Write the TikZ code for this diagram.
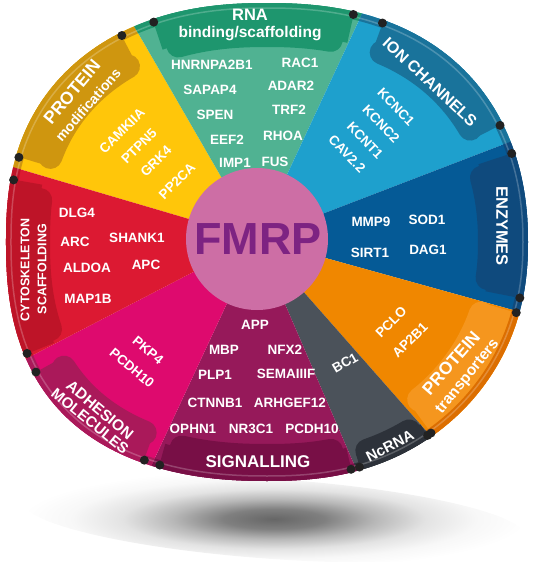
\documentclass[tikz,border=0pt]{standalone}
\usepackage{fontspec}
\setmainfont{Liberation Sans}
\definecolor{ylw}{HTML}{FFC60A}\definecolor{ylwD}{HTML}{CF960F}
\definecolor{grn}{HTML}{50B292}\definecolor{grnD}{HTML}{1E966E}
\definecolor{blu}{HTML}{1EA0CD}\definecolor{bluD}{HTML}{19739B}
\definecolor{dbl}{HTML}{055A96}\definecolor{dblD}{HTML}{0F4A7D}
\definecolor{org}{HTML}{F08700}\definecolor{orgD}{HTML}{DC6E00}\definecolor{orgT}{HTML}{F5961E}
\definecolor{gry}{HTML}{4B525A}\definecolor{gryD}{HTML}{2D323A}
\definecolor{pur}{HTML}{96195A}\definecolor{purD}{HTML}{780F46}
\definecolor{pnk}{HTML}{DE0A6E}\definecolor{pnkD}{HTML}{AA195A}
\definecolor{rdm}{HTML}{DC1932}\definecolor{rdmD}{HTML}{BE1428}
\definecolor{fmrpC}{HTML}{CD6EA5}\definecolor{fmrpT}{HTML}{7D2382}
\definecolor{dotc}{HTML}{222222}

\pgfdeclareradialshading{shadowsh}{\pgfpoint{0bp}{0bp}}{color(0bp)=(black!60); color(5bp)=(black!50); color(10bp)=(black!28); color(15bp)=(black!11); color(20bp)=(black!3); color(25bp)=(white); color(50bp)=(white)}

% outline of the wheel, inset by #1
\newcommand\wheelpath[1]{plot[domain=-180:180, samples=241, variable=\t] ({spx(\t,#1)},{spy(\t,#1)}) -- cycle}

% tab: #1 t1, #2 t2, #3 depth, #4 colour
\newcommand\tabshape[4]{%
  \pgfmathsetmacro\mytabw{2*(#3-12)}%
  \pgfmathsetmacro\mydd{#3-12}%
  \pgfmathsetmacro\mytaba{#1+3.2}%
  \pgfmathsetmacro\mytabb{#2-3.2}%
  \draw[#4, line width=\mytabw pt] plot[domain=#1:#2, samples=40, variable=\t] ({spx(\t,0)},{spy(\t,0)});
  \draw[#4, line width=24pt, line cap=round, line join=round] plot[domain=\mytaba:\mytabb, samples=40, variable=\t] ({spx(\t,\mydd)},{spy(\t,\mydd)});
}
% sector: #1 phi1, #2 phi2, #3 main, #4 rim, #5 t1, #6 t2, #7 depth, #8 tab colour
\newcommand\sector[8]{%
  \pgfmathsetmacro\mymid{(#1+#2)/2}%
  \begin{scope}
    \clip (C) -- +(#1:700) -- +(\mymid:700) -- +(#2:700) -- cycle;
    \clip \wheelpath{0};
    \fill[#3] (0,0) rectangle (533,562);
    \tabshape{#5}{#6}{#7}{#8}
    \draw[#4, line width=16pt, line join=round] \wheelpath{0};
  \end{scope}
}

\begin{document}
\begin{tikzpicture}[x=1pt,y=-1pt,
  declare function={
    sen(\t)=2.3-0.1*cos(\t)-0.05*sin(2*\t);
    spx(\t,\d)=267+(261-\d)*cos(\t)*(abs(cos(\t))+0.0001)^(2/sen(\t)-1);
    spy(\t,\d)=242+(239-\d)*sin(\t)*(abs(sin(\t))+0.0001)^(2/sen(\t)-1);
  },
  item/.style={text=white, font=\fontsize{13.5}{16}\selectfont\bfseries, inner sep=0pt},
  lbl/.style={text=white, inner sep=0pt},
]
\useasboundingbox (0,0) rectangle (533,562);
\coordinate (C) at (257,239);

% shadow
\shade[shading=shadowsh, rotate around={-4:(274,519)}] (274,519) ellipse (252 and 40);

% sectors
\sector{-163.6}{-120}{ylw}{ylwD}{-162.7}{-121}{44}{ylwD}
\sector{-120}{-65}{grn}{grnD}{-112.8}{-73.5}{44}{grnD}
\sector{-65}{-21}{blu}{bluD}{-66.6}{-26.9}{42}{bluD}
\sector{-21}{15.5}{dbl}{dblD}{-19.5}{12}{50}{dblD}
\sector{15.5}{48.6}{org}{orgD}{15.6}{52.5}{48}{orgT}
\sector{48.6}{66.7}{gry}{gryD}{53.5}{71.5}{28}{gryD}
\sector{66.7}{115}{pur}{purD}{73.5}{110.7}{37}{purD}
\sector{115}{152.6}{pnk}{pnkD}{114.4}{151}{40}{pnkD}
\sector{152.6}{196.4}{rdm}{rdmD}{156.3}{191.8}{44}{rdmD}

% rim highlight
\draw[white, opacity=.22, line width=1.5pt] \wheelpath{5};

% tab end dots
\foreach \tt in {-162.7,-121,-112.8,-73.5,-66.6,-26.9,-19.5,12,15.6,52.5,53.5,71.5,73.5,110.7,114.4,151,156.3,191.8}{
  \pgfmathsetmacro\dx{spx(\tt,3)}
  \pgfmathsetmacro\dy{spy(\tt,3)}
  \fill[dotc] (\dx,\dy) circle (4.5);
}

% centre
\fill[fmrpC] (C) circle (71);
\node[text=fmrpT, font=\fontsize{45}{50}\selectfont\bfseries, inner sep=0pt] (fmrp) at (258,239) {FMRP};

% tab labels
\node[lbl, font=\fontsize{16.5}{18}\selectfont\bfseries] (rna) at (250,15) {RNA};
\node[lbl, font=\fontsize{15.5}{18}\selectfont\bfseries] (rnab) at (250,34) {binding/scaffolding};
\node[lbl, font=\fontsize{16}{18}\selectfont\bfseries, rotate=-43] (ion) at (430,82) {ION CHANNELS};
\node[lbl, font=\fontsize{16.5}{18}\selectfont\bfseries, rotate=-90] (enz) at (502,226) {ENZYMES};
\node[lbl, font=\fontsize{17.5}{18}\selectfont\bfseries, rotate=49] (ptr1) at (451,363) {PROTEIN};
\node[lbl, font=\fontsize{15.5}{18}\selectfont\bfseries, rotate=51] (ptr2) at (468,377) {transporters};
\node[lbl, font=\fontsize{15}{18}\selectfont\bfseries, rotate=27] (ncr) at (390,446) {NcRNA};
\node[lbl, font=\fontsize{17}{18}\selectfont\bfseries] (sig) at (258,462) {SIGNALLING};
\node[lbl, font=\fontsize{15.5}{18}\selectfont\bfseries, rotate=-40] (adh1) at (100,410) {ADHESION};
\node[lbl, font=\fontsize{15}{18}\selectfont\bfseries, rotate=-39] (adh2) at (90,421) {MOLECULES};
\node[lbl, font=\fontsize{12.5}{14}\selectfont\bfseries, rotate=90] (cyt1) at (25,270) {CYTOSKELETON};
\node[lbl, font=\fontsize{12.5}{14}\selectfont\bfseries, rotate=90] (cyt2) at (42,269) {SCAFFOLDING};
\node[lbl, font=\fontsize{17.5}{18}\selectfont\bfseries, rotate=50] (pmo1) at (72,92) {PROTEIN};
\node[lbl, font=\fontsize{14}{16}\selectfont\bfseries, rotate=49] (pmo2) at (88,105) {modifications};

% RNA items
\node[item] (g1) at (212,65) {HNRNPA2B1};
\node[item] (g2) at (210,90) {SAPAP4};
\node[item] (g3) at (215,115) {SPEN};
\node[item] (g4) at (227,140) {EEF2};
\node[item] (g5) at (235,163) {IMP1};
\node[item] (g6) at (300,63) {RAC1};
\node[item] (g7) at (291,86) {ADAR2};
\node[item] (g8) at (289,110) {TRF2};
\node[item] (g9) at (283,136) {RHOA};
\node[item] (g10) at (275,162) {FUS};
% protein modifications
\node[item, rotate=45] (y1) at (122,131) {CAMKIIA};
\node[item, rotate=45] (y2) at (139,146) {PTPN5};
\node[item, rotate=45] (y3) at (156,161) {GRK4};
\node[item, rotate=45] (y4) at (177,181) {PP2CA};
% cytoskeleton
\node[item] (r1) at (77,213) {DLG4};
\node[item] (r2) at (75,242) {ARC};
\node[item] (r3) at (137,238) {SHANK1};
\node[item] (r4) at (87,268) {ALDOA};
\node[item] (r5) at (146,265) {APC};
\node[item] (r6) at (88,299) {MAP1B};
% adhesion
\node[item, rotate=-40] (p1) at (148,350) {PKP4};
\node[item, rotate=-40] (p2) at (132,368) {PCDH10};
% signalling
\node[item] (s1) at (255,325) {APP};
\node[item] (s2) at (224,350) {MBP};
\node[item] (s3) at (285,350) {NFX2};
\node[item] (s4) at (215,375) {PLP1};
\node[item] (s5) at (286,374) {SEMAIIIF};
\node[item] (s6) at (215,403) {CTNNB1};
\node[item] (s7) at (290,403) {ARHGEF12};
\node[item] (s8) at (193,429) {OPHN1};
\node[item] (s9) at (251,429) {NR3C1};
\node[item] (s10) at (312,429) {PCDH10};
% ncRNA
\node[item, rotate=30] (n1) at (345,363) {BC1};
% transporters
\node[item, rotate=45] (o1) at (391,322) {PCLO};
\node[item, rotate=45] (o2) at (410,340) {AP2B1};
% enzymes
\node[item] (e1) at (371,222) {MMP9};
\node[item] (e2) at (427,220) {SOD1};
\node[item] (e3) at (370,253) {SIRT1};
\node[item] (e4) at (428,250) {DAG1};
% ion channels
\node[item, rotate=-46] (b1) at (396,107) {KCNC1};
\node[item, rotate=-46] (b2) at (381,124) {KCNC2};
\node[item, rotate=-46] (b3) at (365,140) {KCNT1};
\node[item, rotate=-46] (b4) at (347,154) {CAV2.2};
\end{tikzpicture}
\end{document}
